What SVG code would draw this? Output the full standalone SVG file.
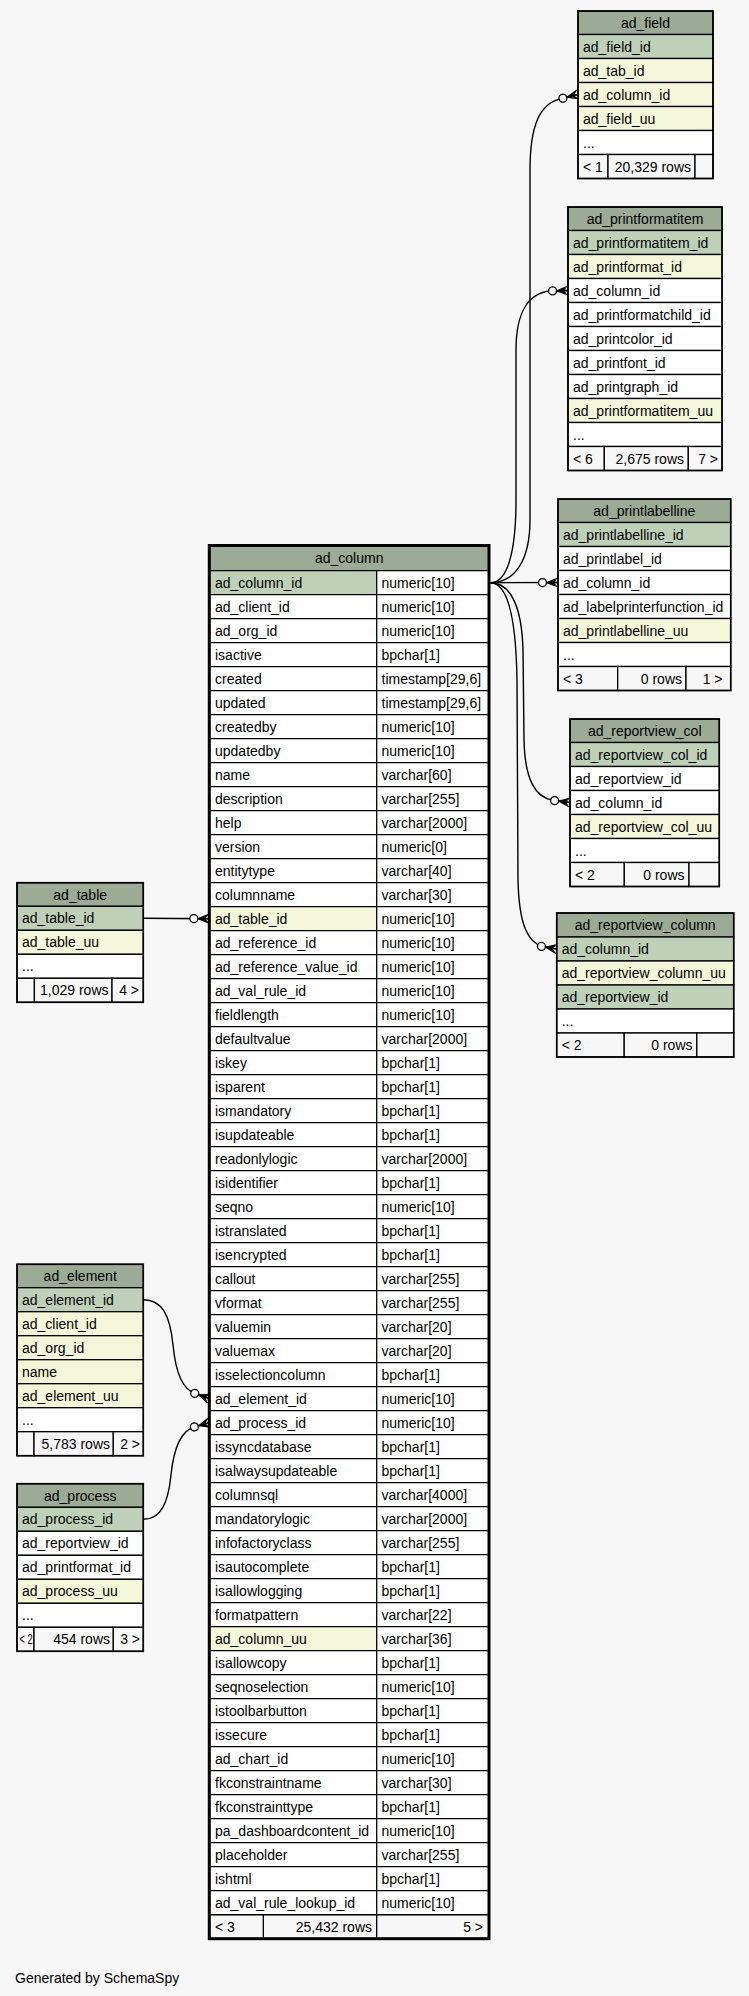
<svg xmlns="http://www.w3.org/2000/svg" width="749" height="1996" viewBox="0 0 749 1996">
<style>
.h{fill:#9bab96;stroke:#000;stroke-width:1.3}
.p{fill:#bed1b8;stroke:#000;stroke-width:1.3}
.i{fill:#f4f7da;stroke:#000;stroke-width:1.3}
.w{fill:#fff;stroke:#000;stroke-width:1.3}
.f{fill:#f7f7f7;stroke:#000;stroke-width:1.3}
.o{fill:none;stroke:#000;stroke-width:1.6}
.ln{fill:none;stroke:#000;stroke-width:1.3}
text{font-family:"Liberation Sans",Arial,Helvetica,sans-serif;font-size:14px;fill:#000}
.c{text-anchor:middle}
.e{text-anchor:end}
.edge{fill:none;stroke:#000;stroke-width:1.4;marker-end:url(#crow)}
</style>
<defs>
<marker id="crow" markerUnits="userSpaceOnUse" orient="auto" overflow="visible" refX="0" refY="0" markerWidth="1" markerHeight="1">
<circle cx="-15.5" cy="0" r="4" fill="#f7f7f7" stroke="#000" stroke-width="1.3"/>
<path d="M-11,0 L0,-4.5 M-11,0 L0,0 M-11,0 L0,4.5" fill="none" stroke="#000" stroke-width="1.3"/>
<polygon points="-11,0 -1,-3.6 -4,0 -1,3.6" fill="#000"/>
</marker>
</defs>
<rect x="0" y="0" width="749" height="1996" fill="#f7f7f7"/>

<g id="connectors">
<path class="edge" d="M490.5,582.7 C515,582.7 530,560 530,520 L530,170 C530,125 540,104 560,98.9 L578,94.5"/>
<path class="edge" d="M490.5,582.7 C508,582.7 516,550 516,500 L516,350 C516,310 530,293 550,291 L568,290.5"/>
<path class="edge" d="M490.5,582.7 L558,582.5"/>
<path class="edge" d="M490.5,582.7 C512,582.7 522,610 523,650 L524,740 C525,780 535,797 553,800.5 L570,802.5"/>
<path class="edge" d="M490.5,582.7 C508,582.7 516,620 517,680 L518,880 C519,925 528,943 543,946.6 L556.7,949"/>
<path class="edge" d="M143.3,918.3 L209.3,918.7"/>
<path class="edge" d="M143.3,1299.7 C162,1299.7 170,1315 173,1345 C176,1375 183,1389 195,1393.5 L209.3,1398.7"/>
<path class="edge" d="M143.3,1519.3 C160,1519.3 168,1505 171,1475 C174,1445 182,1430 195,1426.7 L209.3,1422.7"/>
</g>

<g id="ad_field">
<rect class="h" x="578" y="11" width="135" height="23.5"/>
<rect class="p" x="578" y="34.5" width="135" height="24"/>
<rect class="i" x="578" y="58.5" width="135" height="24"/>
<rect class="i" x="578" y="82.5" width="135" height="24"/>
<rect class="i" x="578" y="106.5" width="135" height="24"/>
<rect class="w" x="578" y="130.5" width="135" height="24"/>
<rect class="f" x="578" y="154.5" width="30" height="24"/>
<rect class="f" x="608" y="154.5" width="87" height="24"/>
<rect class="f" x="695" y="154.5" width="18" height="24"/>
<rect class="o" x="578" y="11" width="135" height="167.5"/>
<text class="c" x="645.5" y="28">ad_field</text>
<text x="583" y="51.5">ad_field_id</text>
<text x="583" y="75.5">ad_tab_id</text>
<text x="583" y="99.5">ad_column_id</text>
<text x="583" y="123.5">ad_field_uu</text>
<text x="583" y="147.5">...</text>
<text x="583" y="171.5">&lt; 1</text>
<text class="e" x="691" y="171.5">20,329 rows</text>
</g>

<g id="ad_printformatitem">
<rect class="h" x="568" y="207" width="154" height="23.5"/>
<rect class="p" x="568" y="230.5" width="154" height="24"/>
<rect class="i" x="568" y="254.5" width="154" height="24"/>
<rect class="w" x="568" y="278.5" width="154" height="24"/>
<rect class="w" x="568" y="302.5" width="154" height="24"/>
<rect class="w" x="568" y="326.5" width="154" height="24"/>
<rect class="w" x="568" y="350.5" width="154" height="24"/>
<rect class="w" x="568" y="374.5" width="154" height="24"/>
<rect class="i" x="568" y="398.5" width="154" height="24"/>
<rect class="w" x="568" y="422.5" width="154" height="24"/>
<rect class="f" x="568" y="446.5" width="36.3" height="24"/>
<rect class="f" x="604.3" y="446.5" width="84" height="24"/>
<rect class="f" x="688.3" y="446.5" width="33.7" height="24"/>
<rect class="o" x="568" y="207" width="154" height="263.5"/>
<text class="c" x="645" y="224">ad_printformatitem</text>
<text x="573" y="247.5">ad_printformatitem_id</text>
<text x="573" y="271.5">ad_printformat_id</text>
<text x="573" y="295.5">ad_column_id</text>
<text x="573" y="319.5">ad_printformatchild_id</text>
<text x="573" y="343.5">ad_printcolor_id</text>
<text x="573" y="367.5">ad_printfont_id</text>
<text x="573" y="391.5">ad_printgraph_id</text>
<text x="573" y="415.5">ad_printformatitem_uu</text>
<text x="573" y="439.5">...</text>
<text x="573" y="463.5">&lt; 6</text>
<text class="e" x="684" y="463.5">2,675 rows</text>
<text class="e" x="718" y="463.5">7 &gt;</text>
</g>

<g id="ad_printlabelline">
<rect class="h" x="558" y="499" width="172.7" height="23.5"/>
<rect class="p" x="558" y="522.5" width="172.7" height="24"/>
<rect class="w" x="558" y="546.5" width="172.7" height="24"/>
<rect class="w" x="558" y="570.5" width="172.7" height="24"/>
<rect class="w" x="558" y="594.5" width="172.7" height="24"/>
<rect class="i" x="558" y="618.5" width="172.7" height="24"/>
<rect class="w" x="558" y="642.5" width="172.7" height="24"/>
<rect class="f" x="558" y="666.5" width="59.7" height="24"/>
<rect class="f" x="617.7" y="666.5" width="68.3" height="24"/>
<rect class="f" x="686" y="666.5" width="44.7" height="24"/>
<rect class="o" x="558" y="499" width="172.7" height="191.5"/>
<text class="c" x="644.3" y="516">ad_printlabelline</text>
<text x="563" y="539.5">ad_printlabelline_id</text>
<text x="563" y="563.5">ad_printlabel_id</text>
<text x="563" y="587.5">ad_column_id</text>
<text x="563" y="611.5">ad_labelprinterfunction_id</text>
<text x="563" y="635.5">ad_printlabelline_uu</text>
<text x="563" y="659.5">...</text>
<text x="563" y="683.5">&lt; 3</text>
<text class="e" x="682" y="683.5">0 rows</text>
<text class="e" x="722.5" y="683.5">1 &gt;</text>
</g>

<g id="ad_reportview_col">
<rect class="h" x="570" y="719" width="149.3" height="23.5"/>
<rect class="p" x="570" y="742.5" width="149.3" height="24"/>
<rect class="w" x="570" y="766.5" width="149.3" height="24"/>
<rect class="w" x="570" y="790.5" width="149.3" height="24"/>
<rect class="i" x="570" y="814.5" width="149.3" height="24"/>
<rect class="w" x="570" y="838.5" width="149.3" height="24"/>
<rect class="f" x="570" y="862.5" width="54.3" height="24"/>
<rect class="f" x="624.3" y="862.5" width="64.7" height="24"/>
<rect class="f" x="689" y="862.5" width="30.3" height="24"/>
<rect class="o" x="570" y="719" width="149.3" height="167.5"/>
<text class="c" x="644.7" y="736">ad_reportview_col</text>
<text x="575" y="759.5">ad_reportview_col_id</text>
<text x="575" y="783.5">ad_reportview_id</text>
<text x="575" y="807.5">ad_column_id</text>
<text x="575" y="831.5">ad_reportview_col_uu</text>
<text x="575" y="855.5">...</text>
<text x="575" y="879.5">&lt; 2</text>
<text class="e" x="684.5" y="879.5">0 rows</text>
</g>

<g id="ad_reportview_column">
<rect class="h" x="556.7" y="913" width="177" height="24"/>
<rect class="p" x="556.7" y="937" width="177" height="24"/>
<rect class="i" x="556.7" y="961" width="177" height="24"/>
<rect class="p" x="556.7" y="985" width="177" height="24"/>
<rect class="w" x="556.7" y="1009" width="177" height="24"/>
<rect class="f" x="556.7" y="1033" width="67.5" height="24"/>
<rect class="f" x="624.2" y="1033" width="72.6" height="24"/>
<rect class="f" x="696.8" y="1033" width="36.9" height="24"/>
<rect class="o" x="556.7" y="913" width="177" height="144"/>
<text class="c" x="645.2" y="930">ad_reportview_column</text>
<text x="561.7" y="954">ad_column_id</text>
<text x="561.7" y="978">ad_reportview_column_uu</text>
<text x="561.7" y="1002">ad_reportview_id</text>
<text x="561.7" y="1026">...</text>
<text x="561.7" y="1050">&lt; 2</text>
<text class="e" x="692.5" y="1050">0 rows</text>
</g>

<g id="ad_table">
<rect class="h" x="17" y="882.7" width="126.3" height="23.6"/>
<rect class="p" x="17" y="906.3" width="126.3" height="24"/>
<rect class="i" x="17" y="930.3" width="126.3" height="24"/>
<rect class="w" x="17" y="954.3" width="126.3" height="24"/>
<rect class="f" x="17" y="978.3" width="17.4" height="24"/>
<rect class="f" x="34.4" y="978.3" width="77.6" height="24"/>
<rect class="f" x="112" y="978.3" width="31.3" height="24"/>
<rect class="o" x="17" y="882.7" width="126.3" height="119.6"/>
<text class="c" x="80.2" y="899.7">ad_table</text>
<text x="22" y="923.3">ad_table_id</text>
<text x="22" y="947.3">ad_table_uu</text>
<text x="22" y="971.3">...</text>
<text class="e" x="108.5" y="995.3">1,029 rows</text>
<text class="e" x="139" y="995.3">4 &gt;</text>
</g>

<g id="ad_element">
<rect class="h" x="17" y="1264.3" width="126.3" height="23.4"/>
<rect class="p" x="17" y="1287.7" width="126.3" height="24"/>
<rect class="i" x="17" y="1311.7" width="126.3" height="24"/>
<rect class="i" x="17" y="1335.7" width="126.3" height="24"/>
<rect class="i" x="17" y="1359.7" width="126.3" height="24"/>
<rect class="i" x="17" y="1383.7" width="126.3" height="24"/>
<rect class="w" x="17" y="1407.7" width="126.3" height="24"/>
<rect class="f" x="17" y="1431.7" width="17" height="24"/>
<rect class="f" x="34" y="1431.7" width="79.3" height="24"/>
<rect class="f" x="113.3" y="1431.7" width="30" height="24"/>
<rect class="o" x="17" y="1264.3" width="126.3" height="191.4"/>
<text class="c" x="80.2" y="1281.3">ad_element</text>
<text x="22" y="1304.7">ad_element_id</text>
<text x="22" y="1328.7">ad_client_id</text>
<text x="22" y="1352.7">ad_org_id</text>
<text x="22" y="1376.7">name</text>
<text x="22" y="1400.7">ad_element_uu</text>
<text x="22" y="1424.7">...</text>
<text class="e" x="110" y="1448.7">5,783 rows</text>
<text class="e" x="140" y="1448.7">2 &gt;</text>
</g>

<g id="ad_process">
<rect class="h" x="17" y="1483.7" width="126.3" height="23.6"/>
<rect class="p" x="17" y="1507.3" width="126.3" height="24"/>
<rect class="w" x="17" y="1531.3" width="126.3" height="24"/>
<rect class="w" x="17" y="1555.3" width="126.3" height="24"/>
<rect class="i" x="17" y="1579.3" width="126.3" height="24"/>
<rect class="w" x="17" y="1603.3" width="126.3" height="24"/>
<rect class="f" x="17" y="1627.3" width="17" height="24"/>
<rect class="f" x="34" y="1627.3" width="79.3" height="24"/>
<rect class="f" x="113.3" y="1627.3" width="30" height="24"/>
<rect class="o" x="17" y="1483.7" width="126.3" height="167.6"/>
<text class="c" x="80.2" y="1500.7">ad_process</text>
<text x="22" y="1524.3">ad_process_id</text>
<text x="22" y="1548.3">ad_reportview_id</text>
<text x="22" y="1572.3">ad_printformat_id</text>
<text x="22" y="1596.3">ad_process_uu</text>
<text x="22" y="1620.3">...</text>
<text x="19.5" y="1644.3" textLength="13" lengthAdjust="spacingAndGlyphs">&lt; 2</text>
<text class="e" x="110" y="1644.3">454 rows</text>
<text class="e" x="140" y="1644.3">3 &gt;</text>
</g>

<g id="ad_column">
<rect class="h" x="209.3" y="545.5" width="279.7" height="25.2"/>
<rect x="209.3" y="570.7" width="279.7" height="1344" fill="#fff"/>
<rect x="209.3" y="570.7" width="167.4" height="24" fill="#bed1b8"/>
<rect x="209.3" y="906.7" width="167.4" height="24" fill="#f4f7da"/>
<rect x="209.3" y="1626.7" width="167.4" height="24" fill="#f4f7da"/>
<rect class="f" x="209.3" y="1914.7" width="279.7" height="24"/>
<path class="ln" d="M209.3,570.7H489M209.3,594.7H489M209.3,618.7H489M209.3,642.7H489M209.3,666.7H489M209.3,690.7H489M209.3,714.7H489M209.3,738.7H489M209.3,762.7H489M209.3,786.7H489M209.3,810.7H489M209.3,834.7H489M209.3,858.7H489M209.3,882.7H489M209.3,906.7H489M209.3,930.7H489M209.3,954.7H489M209.3,978.7H489M209.3,1002.7H489M209.3,1026.7H489M209.3,1050.7H489M209.3,1074.7H489M209.3,1098.7H489M209.3,1122.7H489M209.3,1146.7H489M209.3,1170.7H489M209.3,1194.7H489M209.3,1218.7H489M209.3,1242.7H489M209.3,1266.7H489M209.3,1290.7H489M209.3,1314.7H489M209.3,1338.7H489M209.3,1362.7H489M209.3,1386.7H489M209.3,1410.7H489M209.3,1434.7H489M209.3,1458.7H489M209.3,1482.7H489M209.3,1506.7H489M209.3,1530.7H489M209.3,1554.7H489M209.3,1578.7H489M209.3,1602.7H489M209.3,1626.7H489M209.3,1650.7H489M209.3,1674.7H489M209.3,1698.7H489M209.3,1722.7H489M209.3,1746.7H489M209.3,1770.7H489M209.3,1794.7H489M209.3,1818.7H489M209.3,1842.7H489M209.3,1866.7H489M209.3,1890.7H489M209.3,1914.7H489M376.7,570.7V1938.7M263.3,1914.7V1938.7"/>
<rect x="209.3" y="545.5" width="279.7" height="1393.2" fill="none" stroke="#000" stroke-width="3"/>
<text class="c" x="349.2" y="563">ad_column</text>
<text x="215"><tspan x="215" y="587.7">ad_column_id</tspan><tspan x="215" y="611.7">ad_client_id</tspan><tspan x="215" y="635.7">ad_org_id</tspan><tspan x="215" y="659.7">isactive</tspan><tspan x="215" y="683.7">created</tspan><tspan x="215" y="707.7">updated</tspan><tspan x="215" y="731.7">createdby</tspan><tspan x="215" y="755.7">updatedby</tspan><tspan x="215" y="779.7">name</tspan><tspan x="215" y="803.7">description</tspan><tspan x="215" y="827.7">help</tspan><tspan x="215" y="851.7">version</tspan><tspan x="215" y="875.7">entitytype</tspan><tspan x="215" y="899.7">columnname</tspan><tspan x="215" y="923.7">ad_table_id</tspan><tspan x="215" y="947.7">ad_reference_id</tspan><tspan x="215" y="971.7">ad_reference_value_id</tspan><tspan x="215" y="995.7">ad_val_rule_id</tspan><tspan x="215" y="1019.7">fieldlength</tspan><tspan x="215" y="1043.7">defaultvalue</tspan><tspan x="215" y="1067.7">iskey</tspan><tspan x="215" y="1091.7">isparent</tspan><tspan x="215" y="1115.7">ismandatory</tspan><tspan x="215" y="1139.7">isupdateable</tspan><tspan x="215" y="1163.7">readonlylogic</tspan><tspan x="215" y="1187.7">isidentifier</tspan><tspan x="215" y="1211.7">seqno</tspan><tspan x="215" y="1235.7">istranslated</tspan><tspan x="215" y="1259.7">isencrypted</tspan><tspan x="215" y="1283.7">callout</tspan><tspan x="215" y="1307.7">vformat</tspan><tspan x="215" y="1331.7">valuemin</tspan><tspan x="215" y="1355.7">valuemax</tspan><tspan x="215" y="1379.7">isselectioncolumn</tspan><tspan x="215" y="1403.7">ad_element_id</tspan><tspan x="215" y="1427.7">ad_process_id</tspan><tspan x="215" y="1451.7">issyncdatabase</tspan><tspan x="215" y="1475.7">isalwaysupdateable</tspan><tspan x="215" y="1499.7">columnsql</tspan><tspan x="215" y="1523.7">mandatorylogic</tspan><tspan x="215" y="1547.7">infofactoryclass</tspan><tspan x="215" y="1571.7">isautocomplete</tspan><tspan x="215" y="1595.7">isallowlogging</tspan><tspan x="215" y="1619.7">formatpattern</tspan><tspan x="215" y="1643.7">ad_column_uu</tspan><tspan x="215" y="1667.7">isallowcopy</tspan><tspan x="215" y="1691.7">seqnoselection</tspan><tspan x="215" y="1715.7">istoolbarbutton</tspan><tspan x="215" y="1739.7">issecure</tspan><tspan x="215" y="1763.7">ad_chart_id</tspan><tspan x="215" y="1787.7">fkconstraintname</tspan><tspan x="215" y="1811.7">fkconstrainttype</tspan><tspan x="215" y="1835.7">pa_dashboardcontent_id</tspan><tspan x="215" y="1859.7">placeholder</tspan><tspan x="215" y="1883.7">ishtml</tspan><tspan x="215" y="1907.7">ad_val_rule_lookup_id</tspan></text>
<text x="381.5"><tspan x="381.5" y="587.7">numeric[10]</tspan><tspan x="381.5" y="611.7">numeric[10]</tspan><tspan x="381.5" y="635.7">numeric[10]</tspan><tspan x="381.5" y="659.7">bpchar[1]</tspan><tspan x="381.5" y="683.7">timestamp[29,6]</tspan><tspan x="381.5" y="707.7">timestamp[29,6]</tspan><tspan x="381.5" y="731.7">numeric[10]</tspan><tspan x="381.5" y="755.7">numeric[10]</tspan><tspan x="381.5" y="779.7">varchar[60]</tspan><tspan x="381.5" y="803.7">varchar[255]</tspan><tspan x="381.5" y="827.7">varchar[2000]</tspan><tspan x="381.5" y="851.7">numeric[0]</tspan><tspan x="381.5" y="875.7">varchar[40]</tspan><tspan x="381.5" y="899.7">varchar[30]</tspan><tspan x="381.5" y="923.7">numeric[10]</tspan><tspan x="381.5" y="947.7">numeric[10]</tspan><tspan x="381.5" y="971.7">numeric[10]</tspan><tspan x="381.5" y="995.7">numeric[10]</tspan><tspan x="381.5" y="1019.7">numeric[10]</tspan><tspan x="381.5" y="1043.7">varchar[2000]</tspan><tspan x="381.5" y="1067.7">bpchar[1]</tspan><tspan x="381.5" y="1091.7">bpchar[1]</tspan><tspan x="381.5" y="1115.7">bpchar[1]</tspan><tspan x="381.5" y="1139.7">bpchar[1]</tspan><tspan x="381.5" y="1163.7">varchar[2000]</tspan><tspan x="381.5" y="1187.7">bpchar[1]</tspan><tspan x="381.5" y="1211.7">numeric[10]</tspan><tspan x="381.5" y="1235.7">bpchar[1]</tspan><tspan x="381.5" y="1259.7">bpchar[1]</tspan><tspan x="381.5" y="1283.7">varchar[255]</tspan><tspan x="381.5" y="1307.7">varchar[255]</tspan><tspan x="381.5" y="1331.7">varchar[20]</tspan><tspan x="381.5" y="1355.7">varchar[20]</tspan><tspan x="381.5" y="1379.7">bpchar[1]</tspan><tspan x="381.5" y="1403.7">numeric[10]</tspan><tspan x="381.5" y="1427.7">numeric[10]</tspan><tspan x="381.5" y="1451.7">bpchar[1]</tspan><tspan x="381.5" y="1475.7">bpchar[1]</tspan><tspan x="381.5" y="1499.7">varchar[4000]</tspan><tspan x="381.5" y="1523.7">varchar[2000]</tspan><tspan x="381.5" y="1547.7">varchar[255]</tspan><tspan x="381.5" y="1571.7">bpchar[1]</tspan><tspan x="381.5" y="1595.7">bpchar[1]</tspan><tspan x="381.5" y="1619.7">varchar[22]</tspan><tspan x="381.5" y="1643.7">varchar[36]</tspan><tspan x="381.5" y="1667.7">bpchar[1]</tspan><tspan x="381.5" y="1691.7">numeric[10]</tspan><tspan x="381.5" y="1715.7">bpchar[1]</tspan><tspan x="381.5" y="1739.7">bpchar[1]</tspan><tspan x="381.5" y="1763.7">numeric[10]</tspan><tspan x="381.5" y="1787.7">varchar[30]</tspan><tspan x="381.5" y="1811.7">bpchar[1]</tspan><tspan x="381.5" y="1835.7">numeric[10]</tspan><tspan x="381.5" y="1859.7">varchar[255]</tspan><tspan x="381.5" y="1883.7">bpchar[1]</tspan><tspan x="381.5" y="1907.7">numeric[10]</tspan></text>
<text x="215" y="1931.7">&lt; 3</text>
<text class="e" x="372" y="1931.7">25,432 rows</text>
<text class="e" x="483" y="1931.7">5 &gt;</text>
</g>

<text x="15" y="1983">Generated by SchemaSpy</text>
</svg>
